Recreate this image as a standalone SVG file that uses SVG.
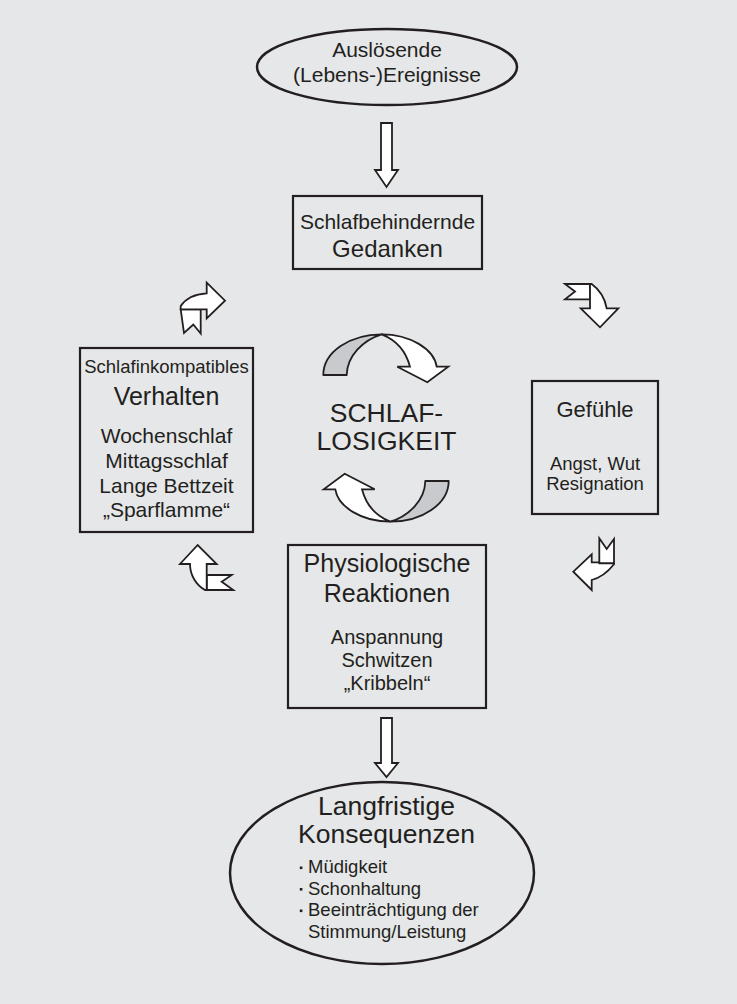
<svg xmlns="http://www.w3.org/2000/svg" width="737" height="1004" viewBox="0 0 737 1004">
<defs>
<style>
text{font-family:"Liberation Sans",Arial,Helvetica,sans-serif;fill:#231f20;text-anchor:middle}
.box{fill:none;stroke:#231f20;stroke-width:2.2}
.ell{fill:none;stroke:#231f20;stroke-width:2.5}
.arr{fill:#ffffff;stroke:#231f20;stroke-width:1.8;stroke-linejoin:miter}
.rib{fill:#c9cacd;stroke:#231f20;stroke-width:1.8;stroke-linejoin:round}
.ribw{fill:#ffffff;stroke:#231f20;stroke-width:1.8;stroke-linejoin:miter}
.bl{text-anchor:start}
</style>
</defs>
<rect x="0" y="0" width="737" height="1004" fill="#e6e7e8"/>

<g id="node-ausloesende">
<ellipse class="ell" cx="387" cy="67" rx="130" ry="38"/>
<text x="387" y="57" font-size="21">Auslösende</text>
<text x="387" y="82" font-size="21">(Lebens-)Ereignisse</text>
</g>

<g id="node-gedanken">
<rect class="box" x="293" y="196" width="189" height="73"/>
<text x="387.5" y="229" font-size="21">Schlafbehindernde</text>
<text x="387.5" y="257" font-size="24">Gedanken</text>
</g>

<g id="node-verhalten">
<rect class="box" x="80" y="348" width="173" height="184"/>
<text x="166.5" y="373" font-size="18.5">Schlafinkompatibles</text>
<text x="166.5" y="405" font-size="25">Verhalten</text>
<text x="166.5" y="443" font-size="21">Wochenschlaf</text>
<text x="166.5" y="468" font-size="21">Mittagsschlaf</text>
<text x="166.5" y="493" font-size="21">Lange Bettzeit</text>
<text x="166.5" y="517" font-size="21">„Sparflamme“</text>
</g>

<g id="node-gefuehle">
<rect class="box" x="532" y="381" width="126" height="133"/>
<text x="595" y="417" font-size="22">Gefühle</text>
<text x="595" y="470" font-size="18.5">Angst, Wut</text>
<text x="595" y="490" font-size="18.5">Resignation</text>
</g>

<g id="node-physio">
<rect class="box" x="288" y="545" width="198" height="163"/>
<text x="387" y="572" font-size="25">Physiologische</text>
<text x="387" y="602" font-size="25">Reaktionen</text>
<text x="387" y="644" font-size="20">Anspannung</text>
<text x="387" y="667" font-size="20">Schwitzen</text>
<text x="387" y="690" font-size="20">„Kribbeln“</text>
</g>

<g id="node-schlaflosigkeit">
<text x="386.5" y="421.5" font-size="26.5">SCHLAF-</text>
<text x="386.5" y="450" font-size="26.5">LOSIGKEIT</text>
</g>

<g id="node-konsequenzen">
<ellipse class="ell" cx="382" cy="873" rx="152" ry="91"/>
<text x="386.5" y="815" font-size="26.5">Langfristige</text>
<text x="386.5" y="843" font-size="26.5">Konsequenzen</text>
<rect x="299.8" y="866.5" width="2.6" height="2.6" fill="#231f20"/>
<rect x="299.8" y="888" width="2.6" height="2.6" fill="#231f20"/>
<rect x="299.8" y="909.5" width="2.6" height="2.6" fill="#231f20"/>
<text class="bl" x="308" y="873" font-size="18.5">Müdigkeit</text>
<text class="bl" x="308" y="894.5" font-size="18.5">Schonhaltung</text>
<text class="bl" x="308" y="916" font-size="18.5">Beeinträchtigung der</text>
<text class="bl" x="308" y="937.5" font-size="18.5">Stimmung/Leistung</text>
</g>

<g id="connectors">
<!-- straight down arrows -->
<path class="arr" d="M381,123 L392,123 L392,170 L398,170 L386.5,187 L375,170 L381,170 Z"/>
<path class="arr" d="M381,718 L392,718 L392,763 L398,763 L386.5,777 L375,763 L381,763 Z"/>

<!-- top-left bent arrow (pointing right) -->
<path class="arr" d="M180.7,309.3 L200.7,309.3 L200.7,333.5 L193.3,324.5 L184,333 Z"/>
<path class="arr" d="M180.7,309.3 L180.7,306 C186,298 195,294 206.7,293.3 L206.7,282.7 L225,300.7 L206.7,318.3 L206.7,309.3 Z"/>

<!-- top-right bent arrow (pointing down) -->
<path class="arr" d="M565,284 L590,284 L590,299.3 L565,299.3 L575,291.5 Z"/>
<path class="arr" d="M590,284 L591.7,284 C600,290 605,299 606.7,308.3 L618.3,308.3 L600,327.3 L580.7,308.3 L590,308.3 Z"/>

<!-- bottom-right bent arrow (pointing left) -->
<path class="arr" d="M599.3,538.3 L606.7,549 L614,539 L614,563.3 L599.3,563.3 Z"/>
<path class="arr" d="M614,563.3 L614,564.3 C607,573 600,578 591.7,580 L591.7,590 L573.3,571.7 L591.7,554.3 L591.7,562.3 L599.3,562.3 L599.3,563.3 Z"/>

<!-- bottom-left bent arrow (pointing up) -->
<path class="arr" d="M206.7,575 L231.7,575 L221.7,581.7 L233.3,590 L206.7,590 Z"/>
<path class="arr" d="M205,590 L206.7,590 L206.7,564 L216.7,564 L197.7,545 L180,564 L190,564 C190,575 196,585 205,590 Z"/>

<!-- circular ribbon arrows -->
<g id="ribbon-top">
<path class="rib" d="M323.3,375 C323.3,352 350,334.3 381.7,334.3 C363,340 347,356 346.7,375 Z"/>
<path class="ribw" d="M381.7,334.3 C410,334.3 434,349 436.7,366.7 L448.3,366.7 L427.3,382.3 L397.3,366.7 L410,366.7 C406,351 396,340 381.7,334.3 Z"/>
</g>
<g id="ribbon-bottom" transform="rotate(180 386 428)">
<path class="rib" d="M323.3,375 C323.3,352 350,334.3 381.7,334.3 C363,340 347,356 346.7,375 Z"/>
<path class="ribw" d="M381.7,334.3 C410,334.3 434,349 436.7,366.7 L448.3,366.7 L427.3,382.3 L397.3,366.7 L410,366.7 C406,351 396,340 381.7,334.3 Z"/>
</g>
</g>
</svg>
